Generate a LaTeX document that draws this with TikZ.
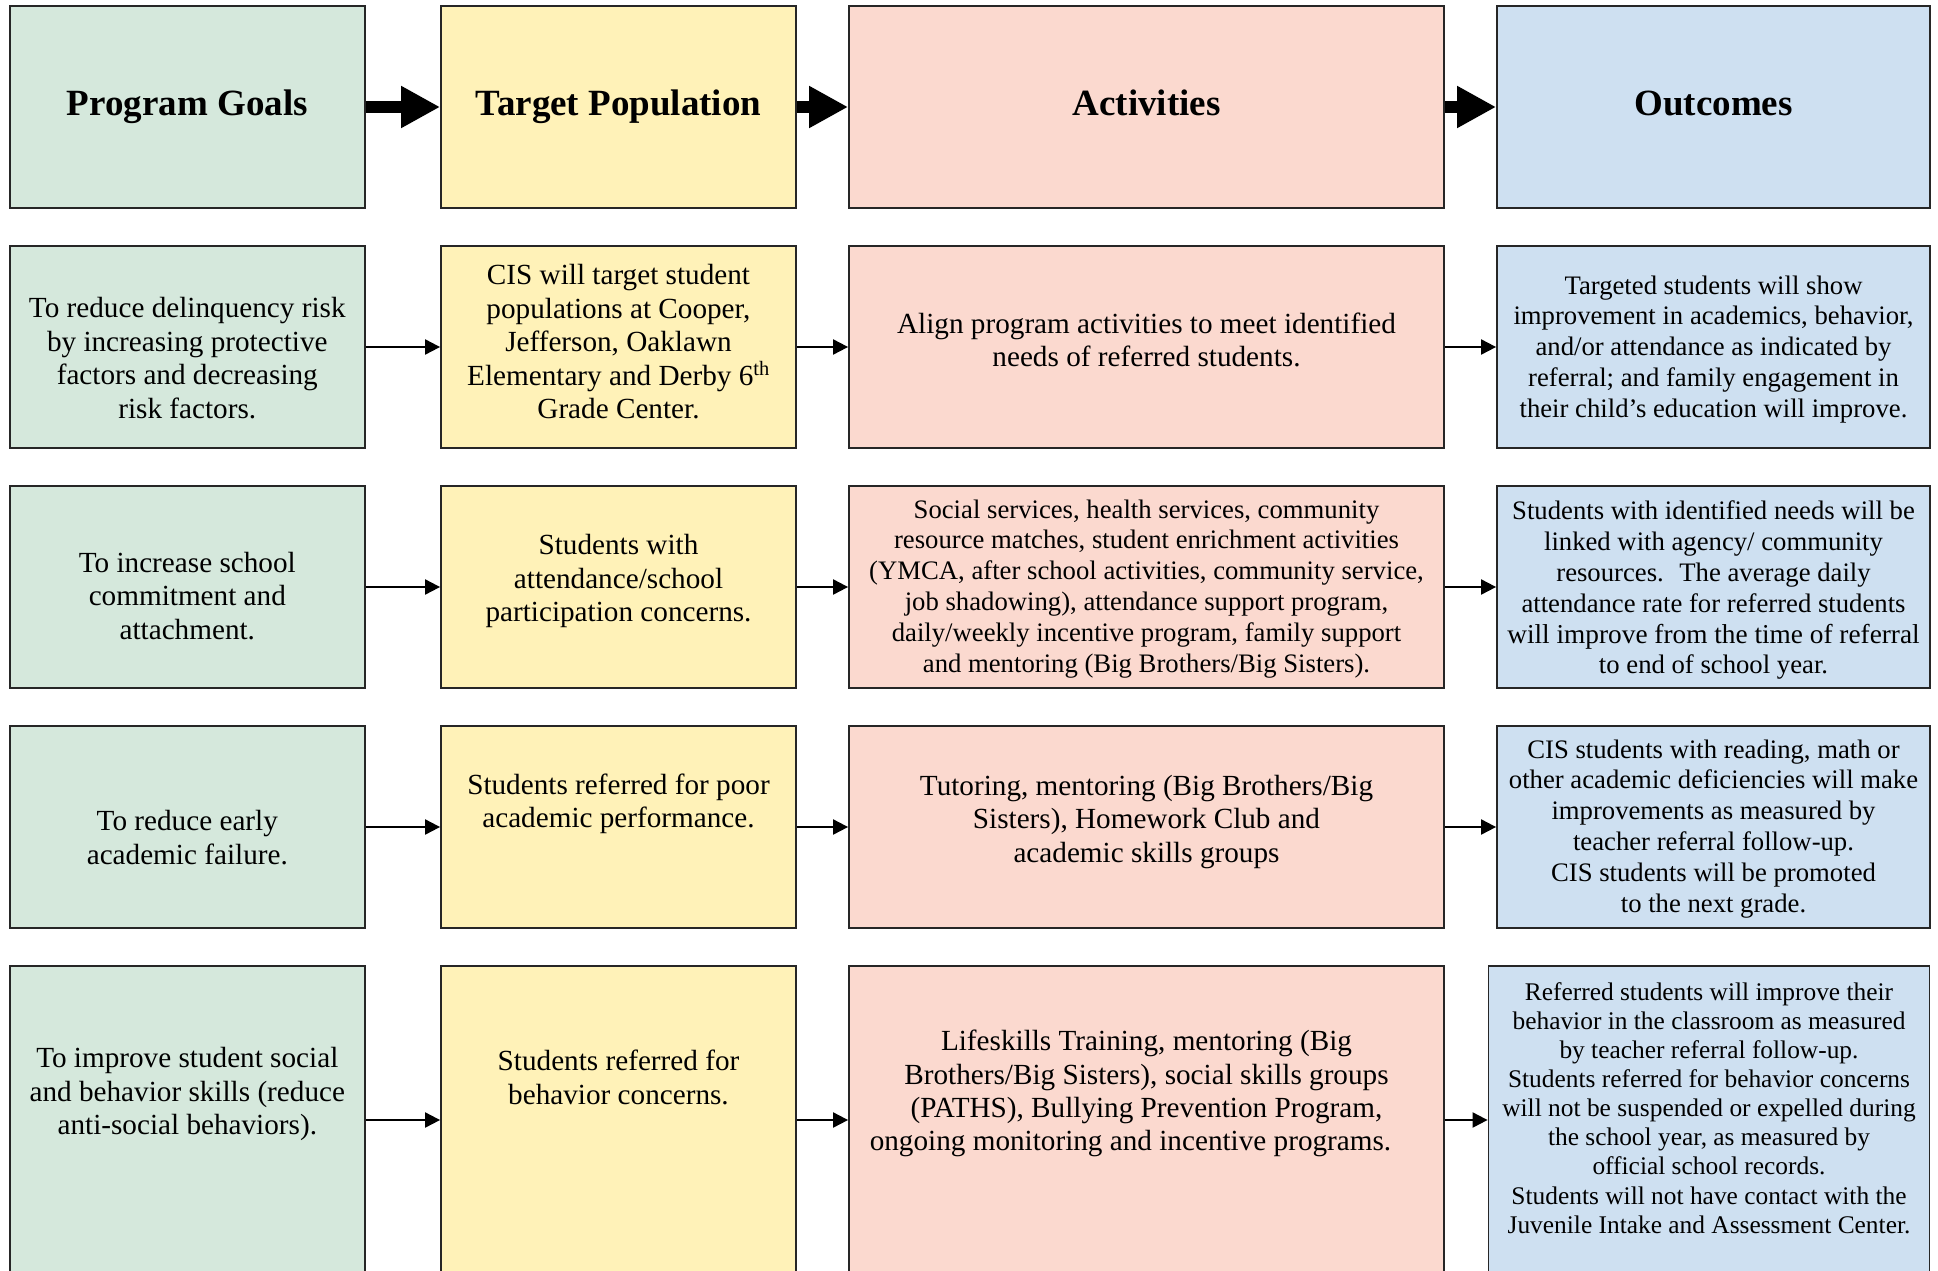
\documentclass[tikz,border=0pt]{standalone}
\usepackage{fontspec}
\setmainfont{Liberation Serif}
\usetikzlibrary{arrows.meta}
\definecolor{goalfill}{RGB}{213,232,220}
\definecolor{popfill}{RGB}{255,242,184}
\definecolor{actfill}{RGB}{251,217,207}
\definecolor{outfill}{RGB}{206,224,241}
\tikzset{
	box/.style={draw=black!85, line width=1.8pt, minimum height=202pt, inner sep=0pt},
	goal/.style={box, fill=goalfill, minimum width=355pt},
	pop/.style={box, fill=popfill, minimum width=355pt},
	act/.style={box, fill=actfill, minimum width=595pt},
	outc/.style={box, fill=outfill, minimum width=433pt},
	headtxt/.style={font=\fontsize{37}{44}\selectfont\bfseries, text height=26pt, text depth=9pt},
	txtbody/.style={align=center, inner sep=0pt, font=\fontsize{29.2}{33.4}\selectfont},
	txtsmall/.style={align=center, inner sep=0pt, font=\fontsize{26.7}{30.8}\selectfont},
	txtsmaller/.style={align=center, inner sep=0pt, font=\fontsize{25.4}{29.1}\selectfont},
	bigarrow/.style={line width=12.7pt, -{Triangle[length=39pt,width=39.4pt]}},
	link/.style={line width=2pt, -{Triangle[length=15pt,width=15pt]}}
}
\begin{document}
\begin{tikzpicture}[x=1pt,y=1pt]
	\useasboundingbox (0,0) rectangle (1938,-1271);
	
	\node [goal, headtxt] (h1) at (187.3,-107) {Program Goals};
	\node [pop, headtxt] (h2) at (618.5,-107) {Target Population};
	\node [act, headtxt] (h3) at (1146.5,-107) {Activities};
	\node [outc, headtxt] (h4) at (1713.5,-107) {Outcomes};
	
	\draw [bigarrow] (h1) -- (h2);
	\draw [bigarrow] (h2) -- (h3);
	\draw [bigarrow] (h3) -- (h4);
	
	\node [goal] (g1) at (187.3,-347) {};
	\node [pop] (p1) at (618.5,-347) {};
	\node [act] (a1) at (1146.5,-347) {};
	\node [outc] (o1) at (1713.5,-347) {};
	\node [txtbody] (g1t) at (187.3,-358) {To reduce delinquency risk\\by increasing protective\\factors and decreasing\\risk factors.};
	\node [txtbody] (p1t) at (618.5,-341.7) {CIS will target student\\populations at Cooper,\\Jefferson, Oaklawn\\Elementary and Derby 6\textsuperscript{th}\\Grade Center.};
	\node [txtbody] (a1t) at (1146.5,-340) {Align program activities to meet identified\\needs of referred students.};
	\node [txtsmall] (o1t) at (1713.5,-349.2) {Targeted students will show\\improvement in academics, behavior,\\and/or attendance as indicated by\\referral; and family engagement in\\their child’s education will improve.};
	
	\node [goal] (g2) at (187.3,-587) {};
	\node [pop] (p2) at (618.5,-587) {};
	\node [act] (a2) at (1146.5,-587) {};
	\node [outc] (o2) at (1713.5,-587) {};
	\node [txtbody] (g2t) at (187.3,-595.8) {To increase school\\commitment and\\attachment.};
	\node [txtbody] (p2t) at (618.5,-581) {Students with\\attendance/school\\participation concerns.};
	\node [txtsmall] (a2t) at (1146.5,-588.7) {Social services, health services, community\\resource matches, student enrichment activities\\(YMCA, after school activities, community service,\\job shadowing), attendance support program,\\daily/weekly incentive program, family support\\and mentoring (Big Brothers/Big Sisters).};
	\node [txtsmall] (o2t) at (1713.5,-590.3) {Students with identified needs will be\\linked with agency/ community\\resources.~ The average daily\\attendance rate for referred students\\{\fontsize{27.3}{30.8}\selectfont will improve from the time of referral}\\to end of school year.};
	
	\node [goal] (g3) at (187.3,-827) {};
	\node [pop] (p3) at (618.5,-827) {};
	\node [act] (a3) at (1146.5,-827) {};
	\node [outc] (o3) at (1713.5,-827) {};
	\node [txtbody] (g3t) at (187.3,-837.5) {To reduce early\\academic failure.};
	\node [txtbody] (p3t) at (618.5,-804) {Students referred for poor\\academic performance.};
	\node [txtbody] (a3t) at (1146.5,-822) {Tutoring, mentoring (Big Brothers/Big\\Sisters), Homework Club and\\academic skills groups};
	\node [txtsmall] (o3t) at (1713.5,-828.8) {CIS students with reading, math or\\other academic deficiencies will make\\improvements as measured by\\teacher referral follow-up.\\CIS students will be promoted\\to the next grade.};
	
	\node [goal, minimum height=308pt] (g4) at (187.3,-1120) {};
	\node [pop, minimum height=308pt] (p4) at (618.5,-1120) {};
	\node [act, minimum height=308pt] (a4) at (1146.5,-1120) {};
	\node [outc, minimum height=308pt, minimum width=441pt] (o4) at (1709,-1120) {};
	\node [txtbody] (g4t) at (187.3,-1094) {To improve student social\\and behavior skills (reduce\\anti-social behaviors).};
	\node [txtbody] (p4t) at (618.5,-1077.3) {Students referred for\\behavior concerns.};
	\node [txtbody] (a4t) at (1146.5,-1093.7) {Lifeskills Training, mentoring (Big\\Brothers/Big Sisters), social skills groups\\(PATHS), Bullying Prevention Program,\\ongoing monitoring and incentive programs.\hspace*{32pt}};
	\node [txtsmaller] (o4t) at (1709,-1108) {Referred students will improve their\\behavior in the classroom as measured\\by teacher referral follow-up.\\Students referred for behavior concerns\\will not be suspended or expelled during\\the school year, as measured by\\official school records.\\Students will not have contact with the\\Juvenile Intake and Assessment Center.};
	
	\draw [link] (g1) -- (p1);
	\draw [link] (p1) -- (a1);
	\draw [link] (a1) -- (o1);
	\draw [link] (g2) -- (p2);
	\draw [link] (p2) -- (a2);
	\draw [link] (a2) -- (o2);
	\draw [link] (g3) -- (p3);
	\draw [link] (p3) -- (a3);
	\draw [link] (a3) -- (o3);
	\draw [link] (g4) -- (p4);
	\draw [link] (p4) -- (a4);
	\draw [link] (a4) -- (o4);
\end{tikzpicture}
\end{document}
